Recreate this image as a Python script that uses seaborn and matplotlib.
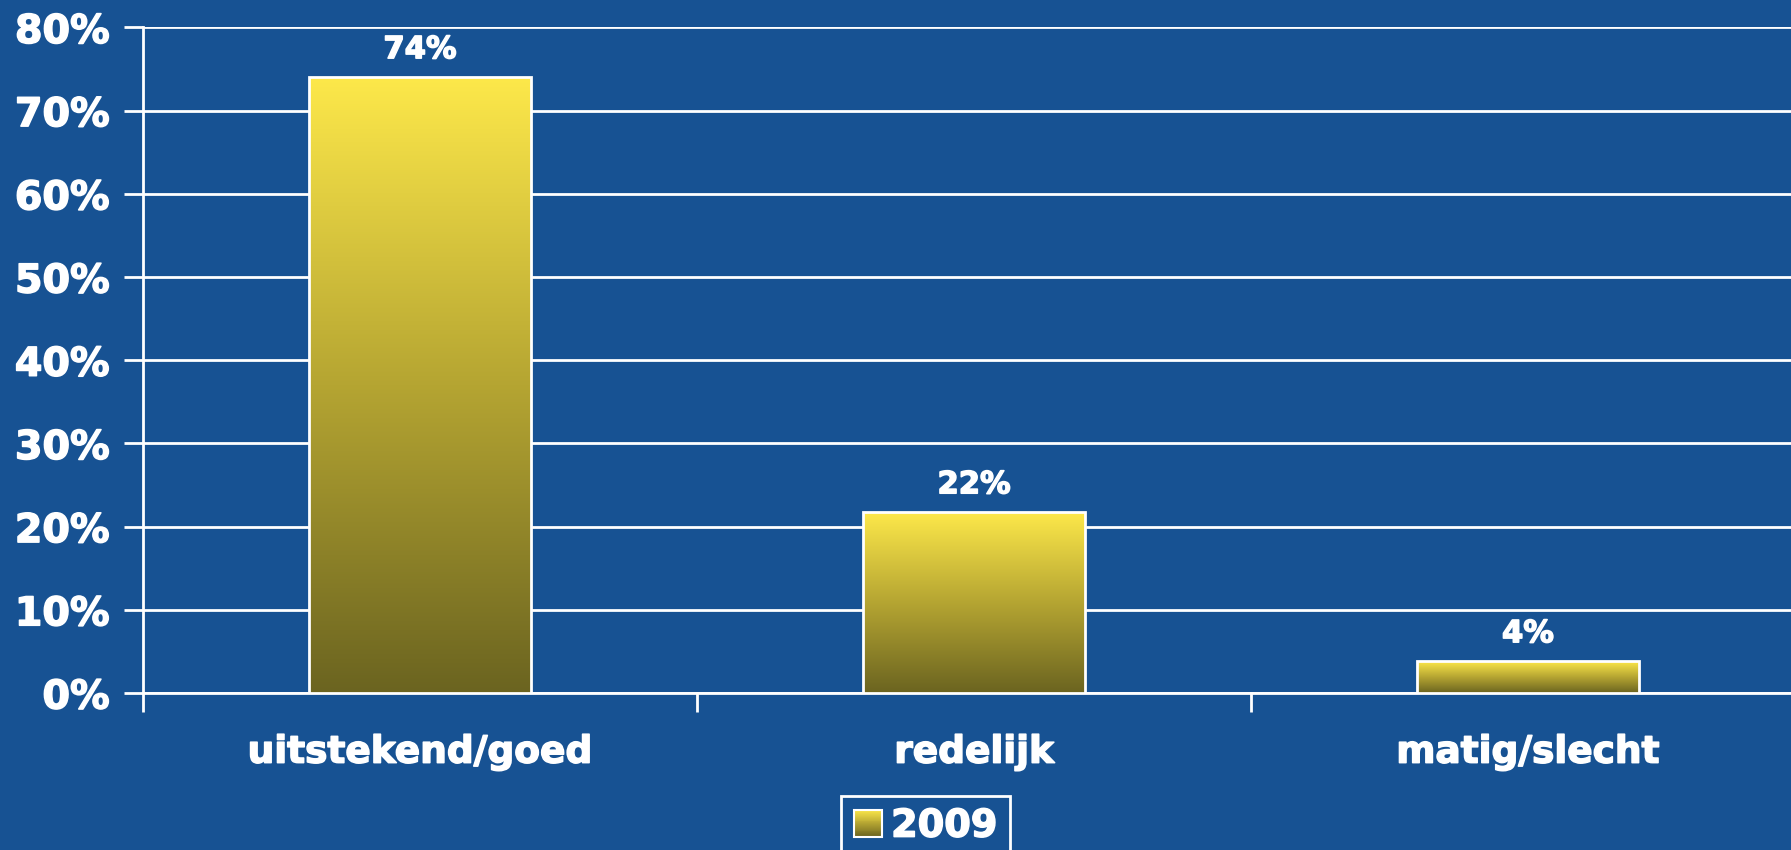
import numpy as np
import pandas as pd
import matplotlib
matplotlib.use("Agg")
import matplotlib.pyplot as plt
import matplotlib.patheffects as pe
import seaborn as sns
from matplotlib.colors import LinearSegmentedColormap
from matplotlib.legend_handler import HandlerBase
from matplotlib.patches import Rectangle

# ---- data ----
categories = ["uitstekend/goed", "redelijk", "matig/slecht"]
values = [74.0, 21.7, 3.8]
value_labels = ["74%", "22%", "4%"]
series_name = "2009"
yticks = [0, 10, 20, 30, 40, 50, 60, 70, 80]
ytick_labels = ["0%", "10%", "20%", "30%", "40%", "50%", "60%", "70%", "80%"]

df = pd.DataFrame({"category": categories, "value": values,
                   "year": [series_name] * len(categories)})

BG = "#175293"
TOP = "#FDE84A"
BOTTOM = "#6B6420"
cmap = LinearSegmentedColormap.from_list("bar", [BOTTOM, "#B5A532", TOP])
BOLDER = [pe.withStroke(linewidth=1.1, foreground="white")]

sns.set_theme(style="white")
plt.rcParams["font.family"] = ["DejaVu Sans"]
plt.rcParams["font.weight"] = "bold"

fig = plt.figure(figsize=(17.91, 8.5), dpi=100)
fig.patch.set_facecolor(BG)
ax = fig.add_axes([0.0798, 0.1847, 0.928, 0.783])
ax.set_facecolor(BG)

sns.barplot(data=df, x="category", y="value", hue="year", palette=["#C8B53A"],
            width=0.4, ax=ax, edgecolor="white", linewidth=2, zorder=3)
if ax.get_legend() is not None:
    ax.get_legend().remove()

ax.set_xlim(-0.5, 2.5)
ax.set_ylim(0, 80)

# gradient fill of bars
grad = np.linspace(0, 1, 256).reshape(-1, 1)
for p in list(ax.patches):
    x, y = p.get_x(), p.get_y()
    w, h = p.get_width(), p.get_height()
    if h <= 0:
        continue
    im = ax.imshow(grad, extent=[x, x + w, y, y + h], cmap=cmap, aspect="auto",
                   origin="lower", zorder=2.9, interpolation="bilinear")
    im.set_clip_path(p)
    p.set_facecolor("none")
ax.set_xlim(-0.5, 2.5)
ax.set_ylim(0, 80)
ax.set_aspect("auto")

texts = ax.bar_label(ax.containers[0], labels=value_labels, padding=9.5, fontsize=22,
                     color="white", fontweight="bold")
for t in texts:
    t.set_path_effects(BOLDER)

# axes styling
ax.set_yticks(yticks)
ax.set_yticklabels(ytick_labels)
ax.yaxis.grid(True, color="white", linewidth=2)
ax.xaxis.grid(False)
ax.set_axisbelow(True)
for s in ["top", "right"]:
    ax.spines[s].set_visible(False)
for s in ["left", "bottom"]:
    ax.spines[s].set_color("white")
    ax.spines[s].set_linewidth(2)
ax.tick_params(axis="y", length=14, width=2, color="white", labelsize=28.5,
               labelcolor="white", pad=10, left=True)
ax.set_xticks([-0.5, 0.5, 1.5, 2.5], minor=True)
ax.tick_params(axis="x", which="minor", length=14, width=2, color="white", bottom=True)
ax.tick_params(axis="x", which="major", length=0, labelsize=27, labelcolor="white", pad=30)
ax.set_xlabel("")
ax.set_ylabel("")
for t in ax.get_xticklabels() + ax.get_yticklabels():
    t.set_fontweight("bold")
    t.set_path_effects(BOLDER)


class GradientHandler(HandlerBase):
    def create_artists(self, legend, orig_handle, xdescent, ydescent, width,
                       height, fontsize, trans):
        n = 30
        arts = []
        for i in range(n):
            r = Rectangle((-xdescent, -ydescent + height * i / n), width, height / n + 0.2,
                          facecolor=cmap(i / (n - 1)), edgecolor="none", transform=trans)
            arts.append(r)
        arts.append(Rectangle((-xdescent, -ydescent), width, height, facecolor="none",
                              edgecolor="white", linewidth=1.5, transform=trans))
        return arts


handle = ax.containers[0].patches[0]
leg = fig.legend([handle], [series_name], loc="upper center",
                 bbox_to_anchor=(0.517, 0.0635), frameon=True, fancybox=False,
                 edgecolor="white", facecolor=BG, framealpha=1,
                 prop={"size": 27.5, "weight": "bold"}, labelcolor="white",
                 handlelength=0.72, handleheight=0.72, handletextpad=0.25,
                 borderpad=0.33, borderaxespad=0,
                 handler_map={handle: GradientHandler()})
leg.get_frame().set_linewidth(2)
for t in leg.get_texts():
    t.set_path_effects(BOLDER)

fig.savefig("out.png", dpi=100, facecolor=BG)
